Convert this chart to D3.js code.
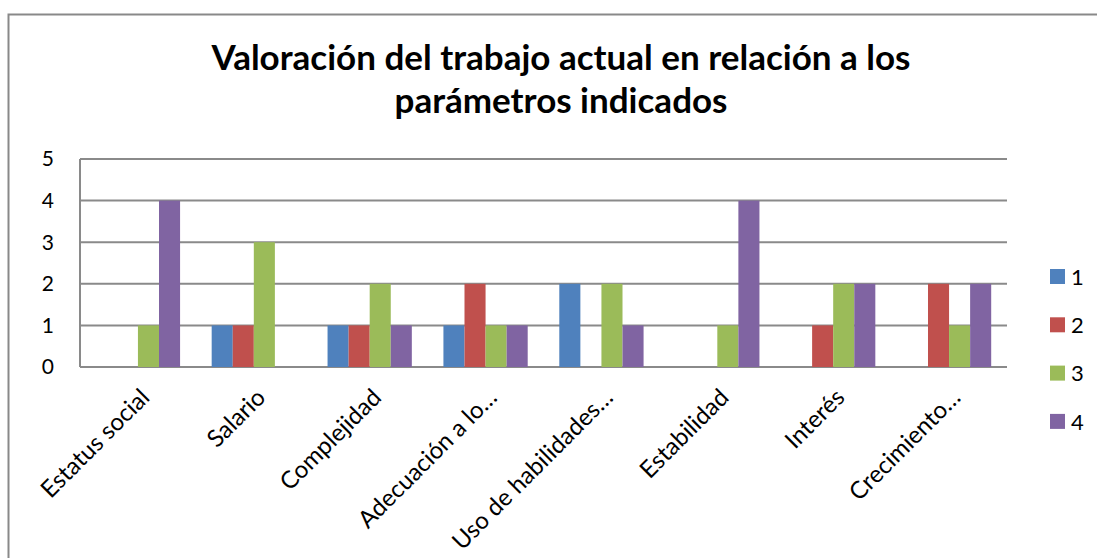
<!DOCTYPE html>
<html>
<head>
<meta charset="utf-8">
<script src="https://cdn.jsdelivr.net/npm/d3@7"></script>
<style>
  body { margin: 0; background: #fff; }
  svg { display: block; }
</style>
</head>
<body>
<script>
var width = 1097, height = 558;

var categories = ["Estatus social", "Salario", "Complejidad", "Adecuación a lo…",
                  "Uso de habilidades…", "Estabilidad", "Interés", "Crecimiento…"];
var seriesNames = ["1", "2", "3", "4"];
var serie1 = [0, 1, 1, 1, 2, 0, 0, 0];
var serie2 = [0, 1, 1, 2, 0, 0, 1, 2];
var serie3 = [1, 3, 2, 1, 2, 1, 2, 1];
var serie4 = [4, 0, 1, 1, 1, 4, 2, 2];
var yTicks = [0, 1, 2, 3, 4, 5];
var colors = ["#4F81BD", "#C0504D", "#9BBB59", "#8064A2"];
var titleLines = ["Valoración del trabajo actual en relación a los", "parámetros indicados"];

var allSeries = [serie1, serie2, serie3, serie4];
var font = "Lato, 'Open Sans', sans-serif";

var svg = d3.select("body").append("svg")
    .attr("width", width)
    .attr("height", height);

// outer chart frame
svg.append("rect")
    .attr("x", 8.5).attr("y", 14.5)
    .attr("width", 1200).attr("height", 700)
    .attr("fill", "none")
    .attr("stroke", "#898989")
    .attr("stroke-width", 2);

var pLeft = 80, pTop = 159, pRight = 1007, pBottom = 367;

var x = d3.scaleBand().domain(categories).range([pLeft, pRight]);
// excel style: gap width 150% -> 0.75 bar on each side
var xs = d3.scaleBand().domain(seriesNames)
    .range([0, x.bandwidth()]).paddingInner(0).paddingOuter(0.75);
var y = d3.scaleLinear().domain([0, 5]).range([pBottom, pTop]);

// gridlines
svg.append("g").selectAll("line").data(yTicks).enter().append("line")
    .attr("x1", pLeft).attr("x2", pRight)
    .attr("y1", function(d) { return y(d); })
    .attr("y2", function(d) { return y(d); })
    .attr("stroke", "#8a8a8a").attr("stroke-width", 2);

// bars
var groups = svg.append("g").selectAll("g").data(allSeries).enter().append("g")
    .attr("fill", function(d, i) { return colors[i]; });

groups.selectAll("rect")
    .data(function(d, i) { return d.map(function(v, j) { return { v: v, c: categories[j], s: seriesNames[i] }; }); })
    .enter().append("rect")
    .filter(function(d) { return d.v > 0; })
    .attr("x", function(d) { return x(d.c) + xs(d.s); })
    .attr("width", xs.bandwidth())
    .attr("y", function(d) { return y(d.v); })
    .attr("height", function(d) { return y(0) - y(d.v); });

// y axis line
svg.append("line")
    .attr("x1", pLeft).attr("x2", pLeft)
    .attr("y1", pTop).attr("y2", pBottom)
    .attr("stroke", "#8a8a8a").attr("stroke-width", 2);

// y tick labels
svg.append("g").selectAll("text").data(yTicks).enter().append("text")
    .attr("x", 54)
    .attr("y", function(d) { return y(d); })
    .attr("dy", "0.35em")
    .attr("text-anchor", "end")
    .attr("font-family", font)
    .attr("font-size", 21)
    .attr("fill", "#000")
    .text(function(d) { return d; });

// category labels, rotated
svg.append("g").selectAll("text").data(categories).enter().append("text")
    .attr("transform", function(d) {
      var cx = x(d) + x.bandwidth() / 2 + 13;
      return "translate(" + cx + "," + 399 + ") rotate(-45)";
    })
    .attr("text-anchor", "end")
    .attr("font-family", font)
    .attr("font-size", 24)
    .attr("fill", "#000")
    .text(function(d) { return d; });

// title
svg.append("g").selectAll("text").data(titleLines).enter().append("text")
    .attr("x", 561)
    .attr("y", function(d, i) { return 70 + i * 43; })
    .attr("text-anchor", "middle")
    .attr("font-family", font)
    .attr("font-weight", "bold")
    .attr("font-size", 35)
    .attr("fill", "#000")
    .text(function(d) { return d; });

// legend
var legend = svg.append("g").selectAll("g").data(seriesNames).enter().append("g")
    .attr("transform", function(d, i) { return "translate(1050," + (269 + i * 48.3) + ")"; });
legend.append("rect")
    .attr("width", 15).attr("height", 15)
    .attr("fill", function(d, i) { return colors[i]; });
legend.append("text")
    .attr("x", 21).attr("y", 8)
    .attr("dy", "0.35em")
    .attr("font-family", font)
    .attr("font-size", 22)
    .attr("fill", "#000")
    .text(function(d) { return d; });
</script>
</body>
</html>
